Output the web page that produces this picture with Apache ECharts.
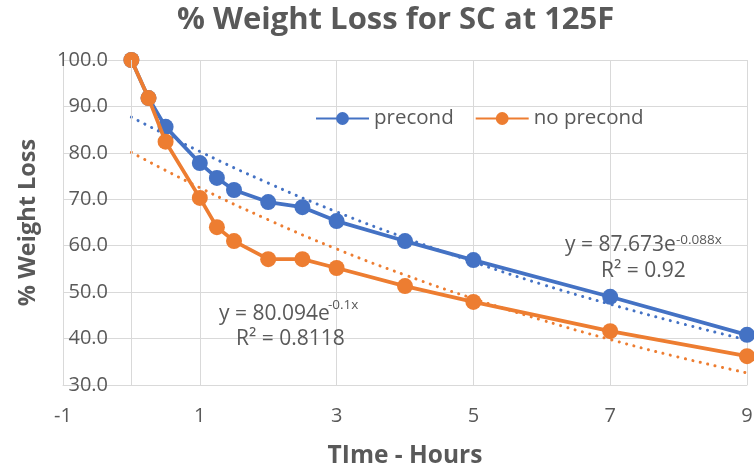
<!DOCTYPE html>
<html>
<head>
<meta charset="utf-8">
<script src="https://cdn.jsdelivr.net/npm/echarts@6/dist/echarts.min.js"></script>
<style>html,body{margin:0;padding:0;background:#fff}#c{width:754px;height:471px}</style>
</head>
<body>
<div id="c"></div>
<script>
// Measured data
const hours = [0, 0.25, 0.5, 1, 1.25, 1.5, 2, 2.5, 3, 4, 5, 7, 9];
const precond = [100, 91.8, 85.6, 77.8, 74.6, 72, 69.4, 68.3, 65.3, 61, 56.9, 49, 40.8];
const noPrecond = [100, 91.8, 82.4, 70.3, 64, 61, 57.1, 57.1, 55.2, 51.3, 47.9, 41.6, 36.2];
// Trendline values
const trendX = [0, 1, 2, 3, 4, 5, 6, 7, 8, 9];
const precondTrend = [87.7, 80.3, 73.5, 67.3, 61.7, 56.5, 51.7, 47.4, 43.4, 39.7];
const noPrecondTrend = [80.1, 72.5, 65.6, 59.3, 53.7, 48.6, 44.0, 39.8, 36.0, 32.6];
const seriesNames = ['precond', 'no precond'];

const FONT = '"Open Sans", sans-serif';
const GREY = '#595959';
const BLUE = '#4472C4';
const ORANGE = '#ED7D31';

const zip = (xs, ys) => xs.map((x, i) => [x, ys[i]]);
const txt = (x, y, text, size) => ({
  type: 'text', x: x, y: y, z: 10, silent: true,
  style: {text: text, fontFamily: FONT, fontSize: size, fill: GREY,
    align: 'left', verticalAlign: 'middle'}
});

const chart = echarts.init(document.getElementById('c'), null, {renderer: 'canvas'});
chart.setOption({
  animation: false,
  backgroundColor: '#fff',
  title: {
    text: '% Weight Loss for SC at 125F',
    left: 172, top: 0,
    textStyle: {fontFamily: FONT, fontSize: 31, fontWeight: 'bold', color: GREY}
  },
  legend: {
    data: seriesNames,
    left: 310, top: 103,
    itemWidth: 53, itemHeight: 16, itemGap: 21,
    textStyle: {fontFamily: FONT, fontSize: 20.5, color: GREY}
  },
  grid: {left: 63, right: 7, top: 60, bottom: 86, containLabel: false, outerBoundsMode: 'none'},
  xAxis: {
    type: 'value', min: -1, max: 9, interval: 2,
    name: 'TIme - Hours', nameLocation: 'middle', nameGap: 59,
    nameTextStyle: {fontFamily: FONT, fontSize: 24.5, fontWeight: 'bold', color: GREY},
    axisLine: {show: true, lineStyle: {color: '#d9d9d9', width: 1}},
    axisTick: {show: false},
    axisLabel: {fontFamily: FONT, fontSize: 20, color: GREY, margin: 21},
    splitLine: {show: true, lineStyle: {color: '#d9d9d9', width: 1}}
  },
  yAxis: {
    type: 'value', min: 30, max: 100, interval: 10,
    name: '% Weight Loss', nameLocation: 'middle', nameGap: 23, nameRotate: 90,
    nameTextStyle: {fontFamily: FONT, fontSize: 23.5, fontWeight: 'bold', color: GREY},
    axisLine: {show: true, lineStyle: {color: '#d9d9d9', width: 1}},
    axisTick: {show: false},
    axisLabel: {inside: true, align: 'right', margin: 45,
      fontFamily: FONT, fontSize: 20, color: GREY,
      formatter: v => v.toFixed(1)},
    splitLine: {show: true, lineStyle: {color: '#d9d9d9', width: 1}}
  },
  series: [
    {
      name: 'precond trend', type: 'line', data: zip(trendX, precondTrend),
      smooth: true, showSymbol: false, silent: true,
      lineStyle: {color: BLUE, width: 3, type: [0.1, 7.5], cap: 'round'},
      z: 2,
      markLine: {
        silent: true, symbol: 'none', label: {show: false},
        lineStyle: {color: '#d9d9d9', width: 1, type: 'solid'},
        data: [{xAxis: 0}]
      }
    },
    {
      name: 'no precond trend', type: 'line', data: zip(trendX, noPrecondTrend),
      smooth: true, showSymbol: false, silent: true,
      lineStyle: {color: ORANGE, width: 3, type: [0.1, 7.5], cap: 'round'},
      z: 2
    },
    {
      name: seriesNames[0], type: 'line', data: zip(hours, precond),
      symbol: 'circle', symbolSize: 16,
      itemStyle: {color: BLUE}, lineStyle: {color: BLUE, width: 3.75},
      z: 3
    },
    {
      name: seriesNames[1], type: 'line', data: zip(hours, noPrecond),
      symbol: 'circle', symbolSize: 16,
      itemStyle: {color: ORANGE}, lineStyle: {color: ORANGE, width: 3.75},
      z: 4
    }
  ],
  graphic: [
    txt(565, 245, 'y = 87.673e', 21),
    txt(676, 240, '-0.088x', 13.5),
    txt(601, 271, 'R² = 0.92', 21),
    txt(219, 314, 'y = 80.094e', 21),
    txt(328, 305, '-0.1x', 13.5),
    txt(236, 339, 'R² = 0.8118', 21)
  ]
});
</script>
</body>
</html>
